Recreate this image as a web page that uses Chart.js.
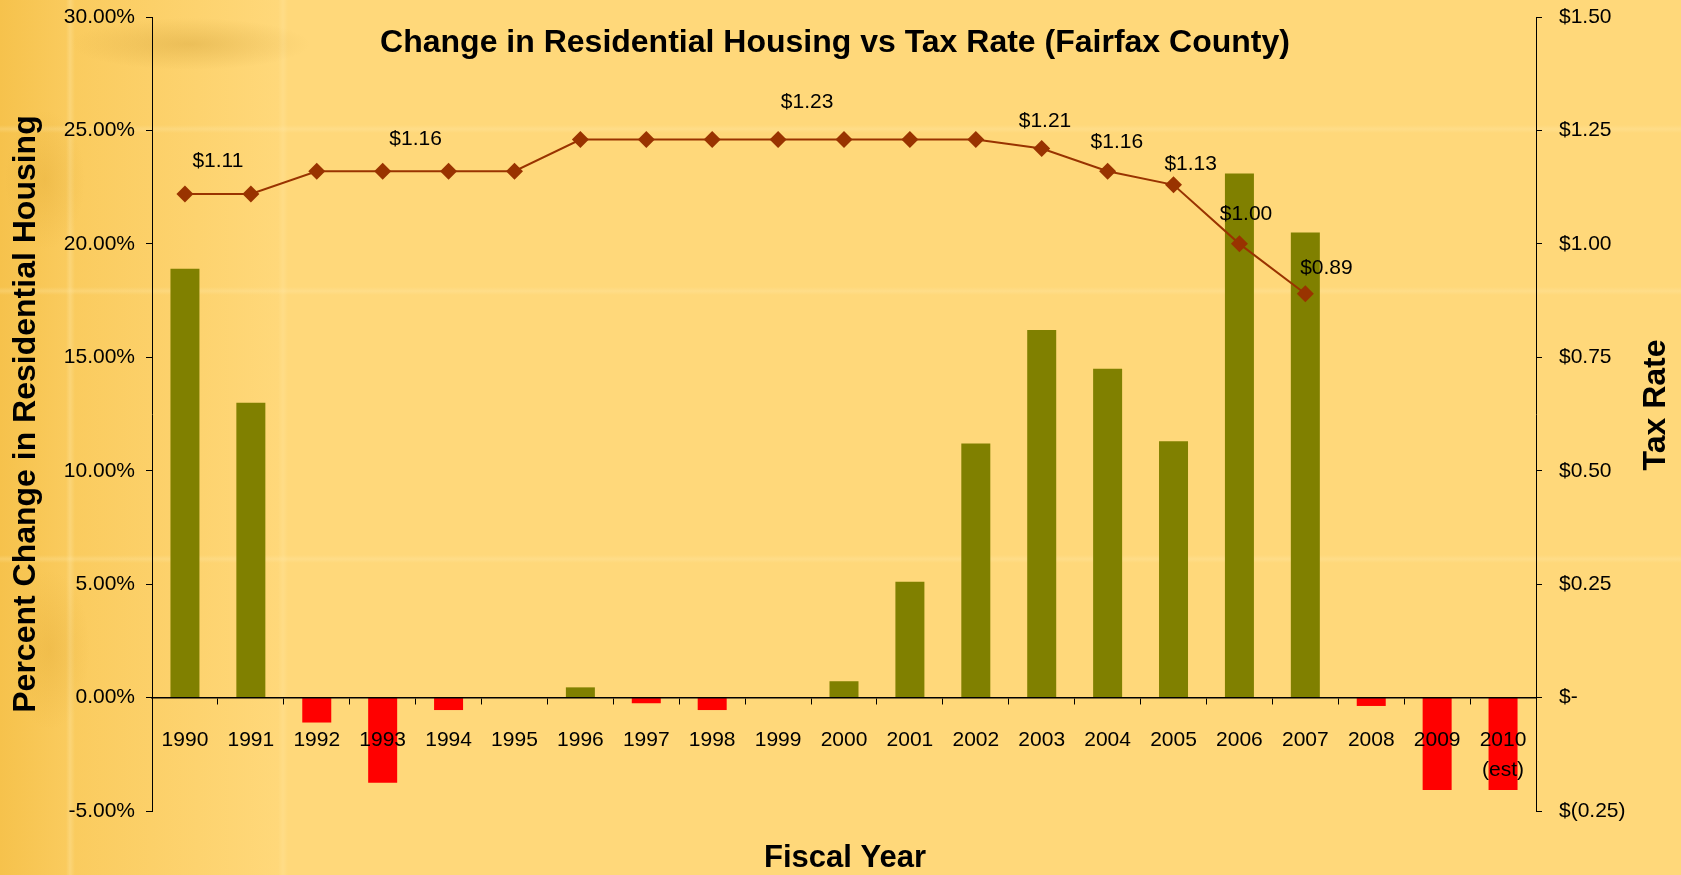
<!DOCTYPE html>
<html>
<head>
<meta charset="utf-8">
<title>Change in Residential Housing vs Tax Rate</title>
<script src="https://cdn.jsdelivr.net/npm/chart.js@4.4.1/dist/chart.umd.min.js"></script>
<style>
    html, body { margin: 0; padding: 0; }
    body {
        width: 1681px; height: 875px; overflow: hidden;
        background-color: #FFD87A;
        background-image:
            radial-gradient(ellipse 120px 26px at 190px 44px, rgba(195,145,40,0.30), rgba(195,145,40,0)),
            radial-gradient(ellipse 40px 70px at 45px 180px, rgba(210,150,30,0.22), rgba(210,150,30,0)),
            radial-gradient(ellipse 40px 80px at 50px 650px, rgba(210,150,30,0.22), rgba(210,150,30,0)),
            linear-gradient(to right, transparent 66px, rgba(255,236,180,0.30) 70px, transparent 75px),
            linear-gradient(to right, transparent 278px, rgba(255,236,180,0.22) 283px, transparent 288px),
            linear-gradient(to bottom, transparent 125px, rgba(255,236,180,0.25) 129px, transparent 133px),
            linear-gradient(to bottom, transparent 287px, rgba(255,236,180,0.25) 291px, transparent 295px),
            linear-gradient(to bottom, transparent 555px, rgba(255,236,180,0.25) 559px, transparent 563px),
            linear-gradient(to right, #F6C24C 0px, #FACB5E 70px, rgba(255,216,122,0) 280px);
    }
    #wrap { position: relative; width: 1681px; height: 875px; }
</style>
</head>
<body>
<div id="wrap"><canvas id="chartHousing"></canvas></div>
<script>
// Dados
const years = ['1990','1991','1992','1993','1994','1995','1996','1997','1998','1999','2000',
               '2001','2002','2003','2004','2005','2006','2007','2008','2009',['2010','(est)']];
const housingChange = [18.9, 13.0, -1.1, -3.75, -0.55, 0, 0.45, -0.25, -0.55, 0, 0.72,
                       5.1, 11.2, 16.2, 14.5, 11.3, 23.1, 20.5, -0.37, -4.07, -4.07];
const taxRate = [1.11, 1.11, 1.16, 1.16, 1.16, 1.16, 1.23, 1.23, 1.23, 1.23, 1.23,
                 1.23, 1.23, 1.21, 1.16, 1.13, 1.00, 0.89, null, null, null];
const percentTicks = { min: -5, max: 30, step: 5 };
const rateTicks = { min: -0.25, max: 1.5, step: 0.25 };

const FONT = "'Liberation Sans', Arial, sans-serif";
const OLIVE = '#808000';
const RED = '#FF0000';
const RUST = '#993300';

// rótulos das taxas (deslocados como no original)
const rateLabels = [
    { i: 0, shift: 0.5, lift: 33 },
    { i: 3, shift: 0.5, lift: 32 },
    { i: 9, shift: 0.44, lift: 37 },
    { i: 13, shift: 0.05, lift: 27 },
    { i: 14, shift: 0.14, lift: 29 },
    { i: 15, shift: 0.26, lift: 21 },
    { i: 16, shift: 0.1, lift: 30 },
    { i: 17, shift: 0.32, lift: 26 }
];

const money = v => '$' + v.toFixed(2);

const extraText = {
    id: 'extraText',
    afterDatasetsDraw(chart) {
        const ctx = chart.ctx;
        const x = chart.scales.x;
        const y1 = chart.scales.y1;
        ctx.save();
        ctx.fillStyle = '#000';
        ctx.textAlign = 'center';
        ctx.textBaseline = 'middle';
        ctx.font = '21px ' + FONT;
        rateLabels.forEach(l => {
            const v = taxRate[l.i];
            ctx.fillText(money(v), x.getPixelForValue(l.i + l.shift), y1.getPixelForValue(v) - l.lift);
        });
        ctx.restore();
    },
    afterDraw(chart) {
        const ctx = chart.ctx;
        ctx.save();
        ctx.fillStyle = '#000';
        ctx.textAlign = 'center';
        ctx.textBaseline = 'middle';
        ctx.font = 'bold 32px ' + FONT;
        ctx.fillText('Change in Residential Housing vs Tax Rate (Fairfax County)', 835, 43);
        ctx.font = 'bold 31px ' + FONT;
        ctx.fillText('Fiscal Year', 845, 858);
        ctx.translate(1656, 405);
        ctx.rotate(-Math.PI / 2);
        ctx.font = 'bold 32px ' + FONT;
        ctx.fillText('Tax Rate', 0, 0);
        ctx.restore();
    }
};

// largura fixa e sem padding extra nos eixos verticais
const fixWidth = w => s => { s.width = w; s.paddingTop = 0; s.paddingBottom = 0; };

new Chart(document.getElementById('chartHousing'), {
    data: {
        labels: years,
        datasets: [
            {
                type: 'line',
                label: 'Tax Rate',
                data: taxRate,
                yAxisID: 'y1',
                order: 1,
                borderColor: RUST,
                borderWidth: 2,
                backgroundColor: RUST,
                pointStyle: 'rectRot',
                pointRadius: 8.5,
                pointBorderWidth: 0,
                tension: 0,
                spanGaps: false
            },
            {
                type: 'bar',
                label: 'Percent Change',
                data: housingChange,
                yAxisID: 'y',
                order: 2,
                backgroundColor: housingChange.map(v => v < 0 ? RED : OLIVE),
                borderWidth: 0,
                categoryPercentage: 1,
                barPercentage: 0.44
            }
        ]
    },
    options: {
        responsive: true,
        maintainAspectRatio: false,
        animation: false,
        layout: { padding: { top: 17, bottom: 64, left: 0, right: 0 } },
        plugins: { legend: { display: false }, tooltip: { enabled: false }, title: { display: false } },
        scales: {
            x: {
                position: { y: 0 },
                offset: true,
                border: { color: '#000', width: 1.5, z: 1 },
                grid: { offset: true, drawOnChartArea: false, color: '#000', tickLength: 6, tickWidth: 1, z: 1 },
                ticks: {
                    z: 1,
                    autoSkip: false, maxRotation: 0, padding: 21, color: '#000',
                    font: { family: FONT, size: 21, lineHeight: 1.45 }
                }
            },
            y: {
                position: 'left',
                min: percentTicks.min, max: percentTicks.max,
                afterFit: fixWidth(152),
                border: { color: '#000', width: 1 },
                grid: { drawOnChartArea: false, color: '#000', tickLength: 6 },
                ticks: {
                    stepSize: percentTicks.step, padding: 11, color: '#000',
                    font: { family: FONT, size: 21 },
                    callback: v => v.toFixed(2) + '%'
                },
                title: {
                    display: true, text: 'Percent Change in Residential Housing', color: '#000',
                    padding: { top: 7, bottom: 0 },
                    font: { family: FONT, size: 32, weight: 'bold' }
                }
            },
            y1: {
                position: 'right',
                min: rateTicks.min, max: rateTicks.max,
                afterFit: fixWidth(145),
                border: { color: '#000', width: 1 },
                grid: { drawOnChartArea: false, color: '#000', tickLength: 6 },
                ticks: {
                    stepSize: rateTicks.step, padding: 17, color: '#000',
                    font: { family: FONT, size: 21 },
                    callback: v => {
                        if (Math.abs(v) < 1e-9) return '$-';
                        return v < 0 ? '$(' + Math.abs(v).toFixed(2) + ')' : money(v);
                    }
                }
            }
        }
    },
    plugins: [extraText]
});
</script>
</body>
</html>
